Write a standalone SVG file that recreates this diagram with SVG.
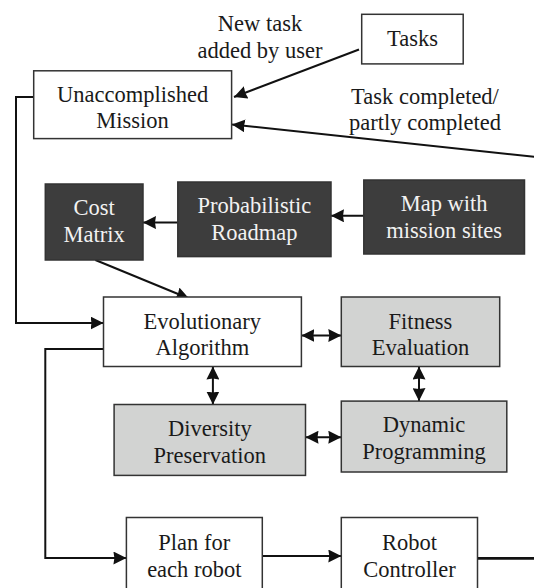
<svg xmlns="http://www.w3.org/2000/svg" width="534" height="588" viewBox="0 0 534 588">
<style>
text{font-family:"Liberation Serif","Times New Roman",serif;font-size:22.5px;text-anchor:middle;fill:#1a1a1a}
.box rect{stroke:#333;stroke-width:1.5}
.white rect{fill:#fff}
.dark rect{fill:#3d3d3d}
.dark text{fill:#f2f2f2}
.gray rect{fill:#d2d3d2}
.conn{fill:none;stroke:#111;stroke-width:2}
</style>
<defs>
<marker id="ah" markerUnits="userSpaceOnUse" markerWidth="14" markerHeight="13" refX="13" refY="6.5" orient="auto-start-reverse">
<path d="M0,0 L13,6.5 L0,13 L1,6.5 z" fill="#111"/>
</marker>
</defs>
<rect width="534" height="588" fill="#fff"/>
<g id="labels">
<text x="260" y="30.5">New task</text>
<text x="260" y="57.5">added by user</text>
<text x="425" y="103.5">Task completed/</text>
<text x="425" y="130">partly completed</text>
</g>
<g id="connectors">
<path class="conn" d="M359,49.5 L234,97" marker-end="url(#ah)"/>
<path class="conn" d="M540,157.5 L232,124.5" marker-end="url(#ah)"/>
<path class="conn" d="M33.7,97 H16 V323 H103.5" marker-end="url(#ah)"/>
<path class="conn" d="M363.8,215.8 H331" marker-end="url(#ah)"/>
<path class="conn" d="M177.8,222.6 H143" marker-end="url(#ah)"/>
<path class="conn" d="M95.4,260 L189,298.5" marker-end="url(#ah)"/>
<path class="conn" d="M301.4,335.5 H341.3" marker-start="url(#ah)" marker-end="url(#ah)"/>
<path class="conn" d="M212.9,366.5 V404.5" marker-start="url(#ah)" marker-end="url(#ah)"/>
<path class="conn" d="M419,366.5 V401.1" marker-start="url(#ah)" marker-end="url(#ah)"/>
<path class="conn" d="M305.5,437.2 H341.3" marker-start="url(#ah)" marker-end="url(#ah)"/>
<path class="conn" d="M103.5,349 H45.3 V558 H126.4" marker-end="url(#ah)"/>
<path class="conn" d="M262.3,556 H341.3" marker-end="url(#ah)"/>
<path class="conn" d="M477.5,558.3 H540" style="stroke-width:2.8"/>
</g>
<g id="tasks" class="box white">
<rect x="361.7" y="14.3" width="101.5" height="49.6"/>
<text x="412.5" y="46">Tasks</text>
</g>
<g id="unaccomplished" class="box white">
<rect x="33.7" y="70.8" width="197.9" height="67.8"/>
<text x="132.6" y="101.5">Unaccomplished</text>
<text x="132.6" y="128.3">Mission</text>
</g>
<g id="cost" class="box dark">
<rect x="45.3" y="184" width="97.7" height="76"/>
<text x="94.2" y="214.5">Cost</text>
<text x="94.2" y="241.5">Matrix</text>
</g>
<g id="roadmap" class="box dark">
<rect x="177.8" y="182" width="153.2" height="74.6"/>
<text x="254.4" y="213">Probabilistic</text>
<text x="254.4" y="240">Roadmap</text>
</g>
<g id="map" class="box dark">
<rect x="363.8" y="180" width="160.7" height="74"/>
<text x="444.1" y="210.5">Map with</text>
<text x="444.1" y="237.5">mission sites</text>
</g>
<g id="evolutionary" class="box white">
<rect x="103.5" y="297" width="197.9" height="69.5"/>
<text x="202.3" y="328.5">Evolutionary</text>
<text x="202.3" y="355">Algorithm</text>
</g>
<g id="fitness" class="box gray">
<rect x="341.3" y="297" width="158.4" height="69.5"/>
<text x="420.5" y="328.5">Fitness</text>
<text x="420.5" y="355">Evaluation</text>
</g>
<g id="diversity" class="box gray">
<rect x="114.1" y="404.5" width="191.4" height="70.9"/>
<text x="209.8" y="436.2">Diversity</text>
<text x="209.8" y="462.8">Preservation</text>
</g>
<g id="dynamic" class="box gray">
<rect x="341.3" y="401.1" width="165.5" height="70.9"/>
<text x="424" y="432">Dynamic</text>
<text x="424" y="458.5">Programming</text>
</g>
<g id="plan" class="box white">
<rect x="126.4" y="517.5" width="135.9" height="80"/>
<text x="194.3" y="549.5">Plan for</text>
<text x="194.3" y="576.5">each robot</text>
</g>
<g id="controller" class="box white">
<rect x="341.3" y="517.5" width="136.2" height="80"/>
<text x="409.4" y="549.5">Robot</text>
<text x="409.4" y="576.5">Controller</text>
</g>
</svg>
